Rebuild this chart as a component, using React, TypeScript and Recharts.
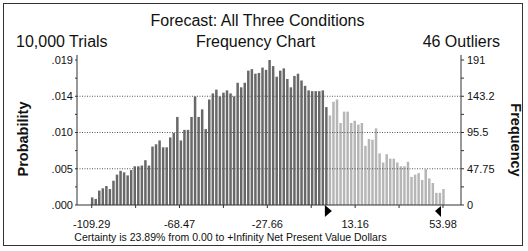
import React from 'react';
import { BarChart, Bar, XAxis, YAxis, ReferenceLine, ReferenceDot, Cell } from 'recharts';

// ---- data ----
const trials = 10000;
const binCount = 100;
const rangeMin = -109.29;
const rangeMax = 53.98;
const frequencies = [
  10, 8, 19, 22, 25, 21, 32, 40, 45, 43, 39, 46, 51, 51, 52, 59, 52, 77, 80, 85, 76, 76, 89, 95, 116,
  85, 99, 99, 116, 143, 116, 126, 100, 139, 147, 152, 143, 148, 151, 147, 143, 161, 155, 161, 177, 179, 173, 174, 181, 178,
  191, 183, 169, 177, 180, 166, 155, 170, 173, 164, 157, 151, 150, 150, 150, 151, 129, 118, 136, 139, 108, 123, 123, 108, 111,
  106, 108, 78, 87, 86, 101, 68, 56, 67, 61, 61, 56, 51, 51, 57, 37, 40, 42, 33, 47, 35, 29, 16, 16, 21,
];
const xTickValues = [-109.29, -88.88, -68.47, -48.07, -27.66, -7.25, 13.16, 33.57, 53.98];
const xTickLabels = ['-109.29', '', '-68.47', '', '-27.66', '', '13.16', '', '53.98'];
const yTickValues = [0, 23.875, 47.75, 71.625, 95.5, 119.375, 143.25, 167.125, 191];
const probLabels = ['.000', '', '.005', '', '.010', '', '.014', '', '.019'];
const freqLabels = ['0', '', '47.75', '', '95.5', '', '143.2', '', '191'];
const gridValues = [47.75, 95.5, 143.25];
const certaintyFrom = 0.0;
const certaintyToMarker = 53.98;
const topTick = [-27.66];

const binStep = (rangeMax - rangeMin) / (binCount - 1);
const data = frequencies.map((c, i) => ({ x: rangeMin + i * binStep, count: c }));

const FONT = '"Liberation Sans", Arial, sans-serif';
const DARK = '#686868';
const LIGHT = '#b6b6b6';
const X_DOMAIN: [number, number] = [-116.12, 62.35];
const Y_DOMAIN: [number, number] = [0, 197.6];

const RightTri = (p: any) => {
  const { cx, cy } = p;
  return <polygon points={`${cx - 2},${cy} ${cx + 5},${cy + 6} ${cx - 2},${cy + 12}`} fill="#000" />;
};
const LeftTri = (p: any) => {
  const { cx, cy } = p;
  return <polygon points={`${cx - 2},${cy + 1} ${cx - 8},${cy + 6} ${cx - 2},${cy + 12}`} fill="#000" />;
};

export default function App() {
  return (
    <div style={{ position: 'absolute', left: 0, top: 0, width: 528, height: 251, background: '#fff' }}>
      <BarChart
        width={528}
        height={251}
        data={data}
        margin={{ top: 55, right: 27, bottom: 16, left: 0 }}
        style={{ fontFamily: FONT }}
      >
        <XAxis
          xAxisId="b"
          dataKey="x"
          type="number"
          domain={X_DOMAIN}
          allowDataOverflow
          ticks={xTickValues}
          interval={0}
          tickFormatter={(v: number, i: number) => xTickLabels[i] ?? ''}
          height={30}
          tickSize={3}
          tickMargin={12}
          stroke="#333"
          tick={{ fill: '#111', fontSize: 11, fontFamily: FONT }}
        />
        <XAxis
          xAxisId="t"
          orientation="top"
          type="number"
          domain={X_DOMAIN}
          allowDataOverflow
          ticks={topTick}
          tickFormatter={() => ''}
          height={0}
          mirror
          tickSize={4}
          stroke="#333"
        />
        <YAxis
          yAxisId="l"
          orientation="left"
          type="number"
          domain={Y_DOMAIN}
          allowDataOverflow
          ticks={yTickValues}
          interval={0}
          tickFormatter={(v: number, i: number) => probLabels[i] ?? ''}
          width={77}
          tickSize={2}
          tickMargin={2}
          stroke="#333"
          tick={{ fill: '#111', fontSize: 11, fontFamily: FONT }}
        />
        <YAxis
          yAxisId="r"
          orientation="right"
          type="number"
          domain={Y_DOMAIN}
          allowDataOverflow
          ticks={yTickValues}
          interval={0}
          tickFormatter={(v: number, i: number) => freqLabels[i] ?? ''}
          width={40}
          tickSize={3}
          tickMargin={3}
          stroke="#333"
          tick={{ fill: '#111', fontSize: 11, fontFamily: FONT }}
        />
        {gridValues.map((g) => (
          <ReferenceLine key={g} y={g} xAxisId="b" yAxisId="l" stroke="#555" strokeDasharray="1 1.5" />
        ))}
        <Bar dataKey="count" xAxisId="b" yAxisId="l" barSize={2.5} isAnimationActive={false}>
          {data.map((d, i) => (
            <Cell key={i} fill={d.x < certaintyFrom ? DARK : LIGHT} />
          ))}
        </Bar>
        <ReferenceDot x={certaintyFrom} y={0} xAxisId="b" yAxisId="l" r={0} ifOverflow="visible" shape={RightTri} />
        <ReferenceDot x={certaintyToMarker} y={0} xAxisId="b" yAxisId="l" r={0} ifOverflow="visible" shape={LeftTri} />
      </BarChart>
      <svg
        width={528}
        height={251}
        style={{ position: 'absolute', left: 0, top: 0, pointerEvents: 'none', fontFamily: FONT }}
      >
        <rect x={3.5} y={3.5} width={519} height={242} fill="none" stroke="#333" strokeWidth={1} />
        <text x={257.5} y={26} textAnchor="middle" fontSize={16} fill="#111">Forecast: All Three Conditions</text>
        <text x={16} y={47} textAnchor="start" fontSize={16} fill="#111">{`${trials.toLocaleString('en-US')} Trials`}</text>
        <text x={255.5} y={47} textAnchor="middle" fontSize={16} fill="#111">Frequency Chart</text>
        <text x={500} y={47} textAnchor="end" fontSize={16} fill="#111">46 Outliers</text>
        <text transform="translate(28,139) rotate(-90)" textAnchor="middle" fontSize={14.5} fontWeight="bold" fill="#111">Probability</text>
        <text transform="translate(511,140) rotate(90)" textAnchor="middle" fontSize={14.5} fontWeight="bold" fill="#111">Frequency</text>
        <text x={230.5} y={241} textAnchor="middle" fontSize={10.5} fill="#111">Certainty is 23.89% from 0.00 to +Infinity Net Present Value Dollars</text>
      </svg>
    </div>
  );
}
